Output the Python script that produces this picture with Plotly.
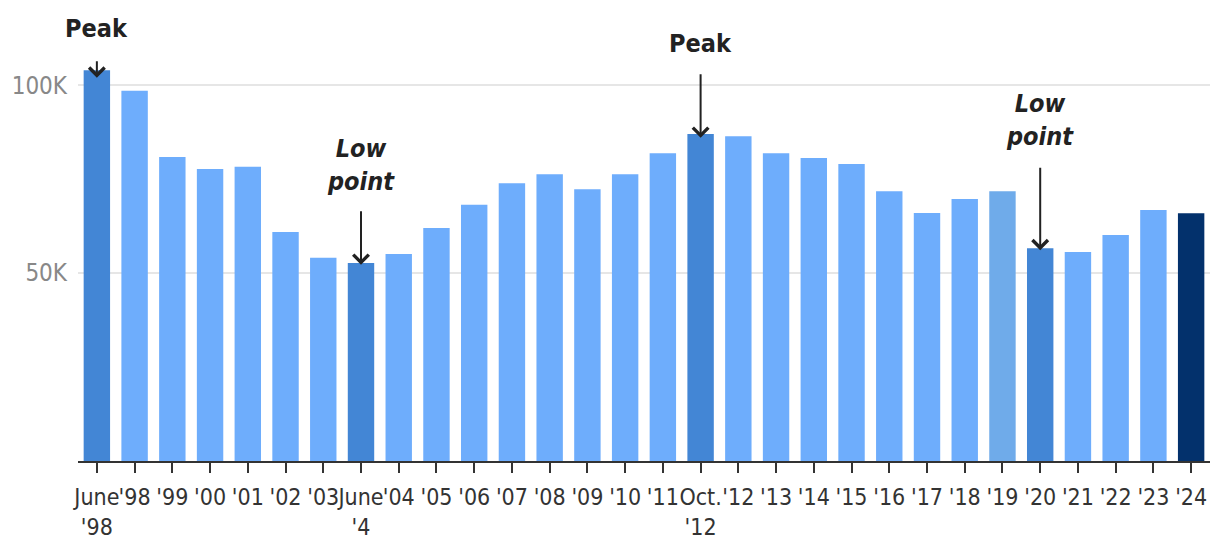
import plotly.graph_objects as go

labels = ["June<br>'98", "'98", "'99", "'00", "'01", "'02", "'03", "June<br>'4", "'04", "'05",
          "'06", "'07", "'08", "'09", "'10", "'11", "Oct.<br>'12", "'12", "'13", "'14",
          "'15", "'16", "'17", "'18", "'19", "'20", "'21", "'22", "'23", "'24"]
values = [104.0, 98.5, 80.9, 77.7, 78.3, 60.9, 54.1, 52.7, 55.1, 62.0,
          68.2, 73.9, 76.3, 72.3, 76.3, 81.9, 87.0, 86.4, 81.9, 80.6,
          79.0, 71.8, 66.0, 69.7, 71.8, 56.6, 55.6, 60.1, 66.8, 65.9]

LIGHT = "#6eadfc"
HIGH = "#4386d5"
colors = [LIGHT] * len(labels)
for i in (0, 7, 16, 25):
    colors[i] = HIGH
colors[24] = "#6fabea"
colors[29] = "#03316c"

FONT = "Liberation Sans Narrow, DejaVu Sans Condensed, Roboto, sans-serif"

fig = go.Figure(go.Bar(x=labels, y=values, marker_color=colors, marker_line_width=0,
                       hoverinfo="x+y"))

# (category, arrow tip value, arrow length px, text, text y)
notes = [
    (labels[0], 102.0, 18, "<b>Peak</b>", 115.2),
    (labels[16], 86.0, 65, "<b>Peak</b>", 111.2),
    (labels[7], 52.2, 55, "<b><i>Low<br>point</i></b>", 78.7),
    (labels[25], 56.1, 84, "<b><i>Low<br>point</i></b>", 90.7),
]
for cat, tip, length, txt, ty in notes:
    fig.add_annotation(x=cat, y=tip, ax=0, ay=-length, text="", showarrow=True,
                       arrowhead=4, arrowsize=1.5, arrowwidth=2, arrowcolor="#222")
    fig.add_annotation(x=cat, y=ty, text=txt, showarrow=False,
                       font=dict(family=FONT, size=25, color="#222"))

# page has an 8px body margin, so the figure is sized to fit the window
fig.update_layout(
    width=1212, height=544,
    margin=dict(l=70, r=10, t=2, b=91),
    paper_bgcolor="white", plot_bgcolor="white",
    bargap=0.3, showlegend=False,
    font=dict(family=FONT),
)
fig.update_xaxes(
    type="category", tickangle=0, automargin=False,
    range=[-0.5, len(labels) - 0.5],
    showline=True, linecolor="#333", linewidth=2,
    ticks="outside", ticklen=10, tickwidth=2, tickcolor="#333",
    tickfont=dict(family=FONT, size=23, color="#333"),
    ticklabelstandoff=4,
    showgrid=False,
)
fig.update_yaxes(
    range=[0, 120], tickvals=[50, 100], ticktext=["50K", "100K"], automargin=False,
    showgrid=True, gridcolor="#e6e6e6", gridwidth=2,
    zeroline=False, showline=False, ticks="",
    tickfont=dict(family=FONT, size=24, color="#888"),
    ticklabelstandoff=10,
)

fig.write_html("out.html")
